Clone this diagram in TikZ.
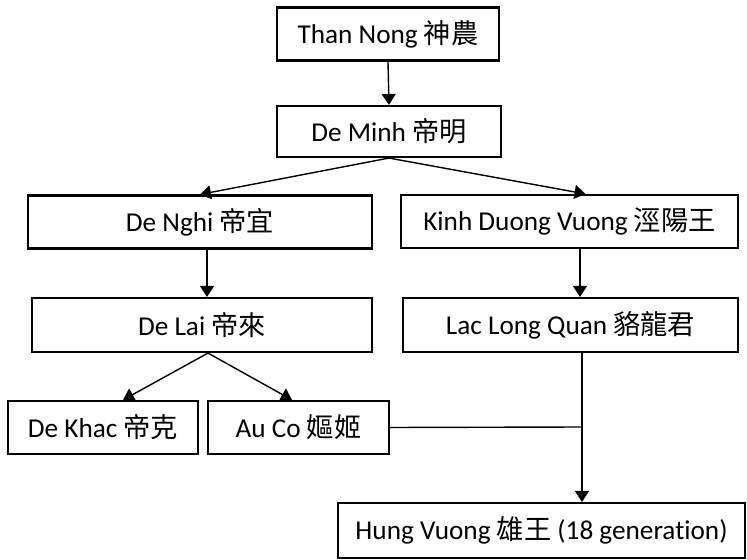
\documentclass[tikz,border=0pt]{standalone}
\usepackage{fontspec}
\setmainfont{Carlito}[Ligatures=NoCommon]
\newfontfamily\cjk{Noto Sans CJK TC}
\usepackage{tikz}
\usetikzlibrary{arrows.meta}
\usetikzlibrary{calc}

\begin{document}
\begin{tikzpicture}[
		person/.style={draw, line width=1.2pt, inner sep=0pt, minimum height=1.06cm,
			font=\fontsize{15.5pt}{18pt}\selectfont},
		link/.style={line width=0.8pt},
		arr/.style={link, -{Triangle[length=0.22cm, width=0.28cm]}}
	]
			\useasboundingbox (0,0) rectangle (14.94,-11.2);

			\node[person, minimum width=4.44cm] (thannong) at (7.76,-0.68) {Than Nong {\cjk 神農}};
			\node[person, minimum width=4.48cm, minimum height=1.02cm] (deminh) at (7.78,-2.63) {De Minh {\cjk 帝明}};
			\node[person, minimum width=6.88cm] (denghi) at (4.0,-4.44) {De Nghi {\cjk 帝宜}};
			\node[person, minimum width=6.74cm] (kinhduong) at (11.39,-4.43) {Kinh Duong Vuong {\cjk 涇陽王}};
			\node[person, minimum width=6.8cm, minimum height=1.08cm] (delai) at (4.04,-6.5) {De Lai {\cjk 帝來}};
			\node[person, minimum width=6.7cm, minimum height=1.08cm] (laclong) at (11.41,-6.5) {Lac Long Quan {\cjk 貉龍君}};
			\node[person, minimum width=3.8cm] (dekhac) at (2.06,-8.55) {De Khac {\cjk 帝克}};
			\node[person, minimum width=3.62cm] (auco) at (5.97,-8.55) {Au Co {\cjk 嫗姬}};
			\node[person, minimum width=8.14cm, minimum height=1.1cm] (hungvuong) at (10.83,-10.61) {Hung Vuong {\cjk 雄王} (18 generation)};

			\coordinate (join) at (11.64,-8.54);

			\draw[arr] (thannong.south) -- (deminh.north);
			\draw[arr] (deminh.south) -- (denghi.north);
			\draw[arr] (deminh.south) -- ($(kinhduong.north)+(0.32,0)$);
			\draw[arr] ($(denghi.south)+(0.14,0)$) -- ($(denghi.south |- delai.north)+(0.14,0)$);
			\draw[arr] ($(kinhduong.south)+(0.21,0)$) -- ($(kinhduong.south |- laclong.north)+(0.21,0)$);
			\draw[arr] ($(delai.south)+(0.12,0)$) -- ($(dekhac.north)+(0.4,0)$);
			\draw[arr] ($(delai.south)+(0.12,0)$) -- ($(auco.north)+(-0.13,0)$);
			\draw[arr] (laclong.south -| join) -- (hungvuong.north -| join);
			\draw[link] (auco.east) -- (join);
		\end{tikzpicture}
\end{document}
